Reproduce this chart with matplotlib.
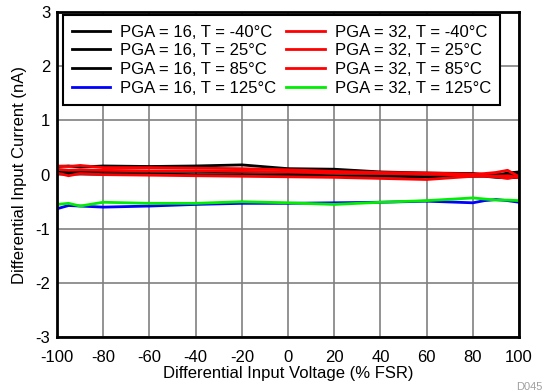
import matplotlib.pyplot as plt

plt.rcParams['font.family'] = ['Liberation Sans', 'DejaVu Sans']
plt.rcParams['axes.unicode_minus'] = False

x = [-100, -95, -90, -80, -60, -40, -20, 0, 20, 40, 60, 80, 85, 90, 95, 100]

pga16_m40 = [0.15, 0.16, 0.14, 0.16, 0.15, 0.16, 0.18, 0.11, 0.10, 0.05, 0.03, 0.02, 0.00, -0.01, 0.03, 0.05]
pga16_25 = [0.05, 0.06, 0.05, 0.06, 0.06, 0.06, 0.05, 0.04, 0.04, 0.02, 0.02, 0.01, 0.00, 0.00, 0.00, 0.01]
pga16_85 = [0.02, 0.02, 0.02, 0.01, 0.01, 0.00, 0.00, -0.01, -0.02, -0.03, -0.04, -0.03, -0.03, -0.05, -0.06, -0.05]
pga32_m40 = [0.16, 0.15, 0.17, 0.13, 0.13, 0.12, 0.11, 0.09, 0.06, 0.04, 0.03, 0.01, 0.02, 0.04, 0.08, -0.04]
pga32_25 = [0.10, 0.08, 0.09, 0.08, 0.07, 0.07, 0.06, 0.05, 0.03, 0.02, 0.01, -0.01, -0.02, -0.03, -0.02, -0.06]
pga32_85 = [0.03, -0.02, 0.02, 0.00, -0.01, -0.02, -0.03, -0.04, -0.05, -0.07, -0.09, -0.03, -0.03, -0.04, -0.07, -0.03]
pga16_125 = [-0.63, -0.57, -0.58, -0.60, -0.58, -0.55, -0.53, -0.53, -0.52, -0.51, -0.49, -0.52, -0.48, -0.46, -0.48, -0.51]
pga32_125 = [-0.55, -0.53, -0.58, -0.51, -0.53, -0.53, -0.50, -0.52, -0.55, -0.51, -0.48, -0.43, -0.45, -0.47, -0.47, -0.48]

series = [
    (pga16_m40, 'black', 'PGA = 16, T = -40°C'),
    (pga16_25, 'black', 'PGA = 16, T = 25°C'),
    (pga16_85, 'black', 'PGA = 16, T = 85°C'),
    (pga16_125, '#0000ff', 'PGA = 16, T = 125°C'),
    (pga32_m40, '#ff0000', 'PGA = 32, T = -40°C'),
    (pga32_25, '#ff0000', 'PGA = 32, T = 25°C'),
    (pga32_85, '#ff0000', 'PGA = 32, T = 85°C'),
    (pga32_125, '#00ee00', 'PGA = 32, T = 125°C'),
]

fig = plt.figure(figsize=(5.43, 3.92), dpi=100)
ax = fig.add_axes([0.105, 0.140, 0.851, 0.829])

for y, c, lab in series:
    ax.plot(x, y, color=c, lw=2, label=lab)

ax.set_xlim(-100, 100)
ax.set_ylim(-3, 3)
ax.set_xticks(range(-100, 101, 20))
ax.set_yticks(range(-3, 4))
ax.grid(True, color='#808080', lw=1.2)
ax.tick_params(length=0, labelsize=12)
ax.tick_params(axis='x', pad=9)
ax.tick_params(axis='y', pad=5)
for s in ax.spines.values():
    s.set_linewidth(2)
ax.set_xlabel('Differential Input Voltage (% FSR)', fontsize=12, labelpad=1)
ax.set_ylabel('Differential Input Current (nA)', fontsize=12, labelpad=6)

leg = ax.legend(loc='upper left', ncol=2, fontsize=12, frameon=True, fancybox=False,
                bbox_to_anchor=(0.005, 1.0), borderaxespad=0.2, handlelength=2.3,
                handletextpad=0.6, columnspacing=0.6, labelspacing=0.22, borderpad=0.55)
leg.get_frame().set_edgecolor('black')
leg.get_frame().set_linewidth(1.5)
leg.get_frame().set_alpha(1)

fig.text(0.951, 0.005, 'D045', fontsize=8, color='#a0a0a0')

fig.savefig('out.png', dpi=100)
